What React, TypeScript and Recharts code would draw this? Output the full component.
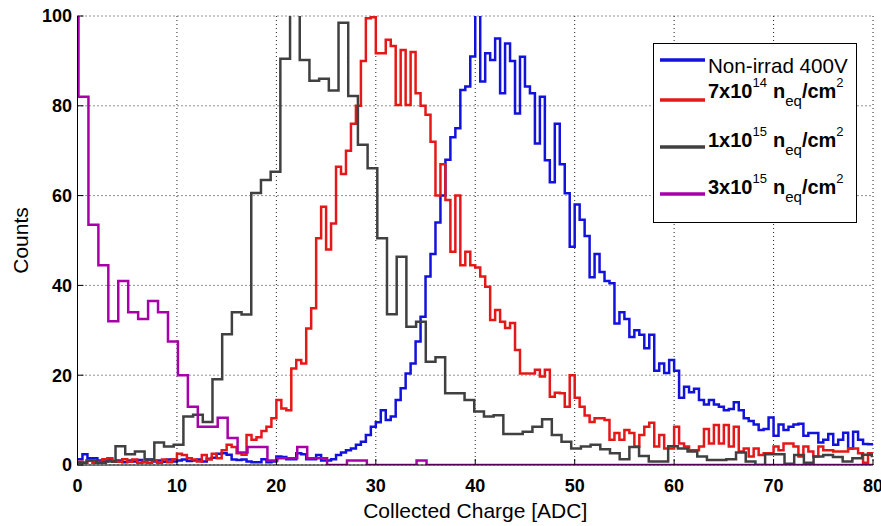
import React from 'react';
import { LineChart, Line, XAxis, YAxis, CartesianGrid, Legend } from 'recharts';

const FONT = '"Liberation Sans", Arial, Helvetica, sans-serif';

const X_TICKS = [0, 10, 20, 30, 40, 50, 60, 70, 80];
const Y_TICKS = [0, 20, 40, 60, 80, 100];

// Non-irrad 400V : bins of 0.5 starting at 0
const BLUE_COUNTS = [
  1.3, 2.4, 1.5, 1.5, 1.0, 0.8, 1.2, 0.8, 1.0, 0.6,
  1.0, 0.8, 1.1, 0.6, 1.2, 0.8, 1.0, 0.7, 1.2, 0.8,
  1.0, 1.2, 0.9, 1.0, 1.2, 0.8, 1.4, 1.6, 2.5, 2.6,
  2.3, 1.2, 1.1, 1.2, 0.8, 0.6, 0.6, 1.3, 0.6, 0.8,
  1.9, 1.8, 1.3, 1.3, 2.6, 2.4, 1.3, 1.3, 2.2, 1.0,
  1.0, 1.3, 2.2, 2.8, 3.3, 3.7, 4.5, 5.2, 6.7, 8.5,
  9.5, 12.2, 10.0, 10.8, 14.5, 17.1, 20.4, 22.6, 27.5, 33,
  42, 47, 54, 60, 68, 73, 75, 83.5, 84.3, 91,
  102, 85.4, 91.7, 90.2, 95, 82.8, 93.9, 90, 78.3, 90.9,
  84.3, 82.8, 71.6, 82, 67.9, 63, 76, 67, 60.5, 48.6,
  58, 54.6, 51, 41.8, 47, 43, 41, 40.5, 31.5, 34,
  32.5, 28.5, 30, 29, 26, 29, 21, 22.6, 20.5, 23.4,
  21, 15, 17.4, 16.2, 17, 14.5, 13.5, 14.5, 13.5, 13,
  12.2, 12.5, 14, 12.2, 10.4, 9.8, 9, 7.8, 8, 10.6,
  6.5, 9, 7.8, 8.5, 9, 9.2, 6.5, 7.1, 7.1, 5,
  5.6, 6.9, 4.5, 5.6, 7.2, 3.7, 7.4, 5.6, 4.7, 4.6,
];

// 7x10^14 : bins of 0.5 starting at 0
const RED_COUNTS = [
  0.7, 0.5, 1.0, 0.5, 0.7, 1.3, 1.5, 0.8, 0.7, 1.3,
  0.7, 1.2, 0.5, 0.7, 0.5, 1.0, 0.5, 1.2, 0.6, 1.3,
  2.5, 2.2, 1.5, 1.2, 0.8, 2.2, 1.2, 2.5, 1.5, 3.3,
  4.5, 4.0, 2.6, 2.3, 6.7, 5.6, 6.2, 7.6, 8.5, 10.4,
  14.5, 12.6, 12.2, 21.5, 23.4, 22.6, 30.4, 34.9, 50.5, 57.5,
  48, 53.8, 66.4, 64.8, 70, 76, 80, 90, 99.5, 99.7,
  91.7, 91.7, 94.7, 93.3, 80.2, 92.4, 80.2, 92, 82.8, 80,
  78, 72, 60, 67, 59, 47.5, 60, 44.5, 47.5, 44.5,
  44, 42, 39.7, 32.3, 34.5, 31.9, 30.5, 31.6, 25.6, 20.4,
  20.4, 20.4, 21.2, 19.7, 21.2, 15.2, 16.1, 16, 13, 20,
  15, 13, 11, 9.6, 10.4, 10.4, 10, 5.6, 7.1, 5.6,
  7.8, 7.1, 4.1, 6.7, 8.5, 9.4, 4.1, 6.7, 3.7, 3.7,
  8.5, 4.8, 4.1, 3.3, 3.3, 4.1, 8.0, 4.8, 8.9, 4.8,
  8.9, 4.1, 8.5, 3.0, 3.7, 1.9, 3.7, 2.2, 2.6, 2.6,
  4.1, 3.3, 4.8, 4.8, 4.1, 1.9, 4.1, 3.0, 1.9, 4.1,
  3.3, 3.3, 3.0, 3.0, 3.0, 3.7, 3.7, 2.6, 0.5, 2.6,
];

// 1x10^15 : bins of 0.975 starting at -0.075
const GRAY_COUNTS = [
  0.5, 1.0, 0.5, 0.8, 4.2, 2.4, 3.0, 1.2, 5.0, 4.1,
  4.5, 10.8, 11.2, 9.6, 19.1, 29.1, 34.0, 33.5, 60.6, 63.5,
  65.3, 90.5, 102, 90.2, 85.6, 86.0, 83.4, 98.5, 82.2, 71.3,
  66.1, 50.5, 33.6, 46.4, 30.8, 31.9, 23.0, 24.0, 16.0, 16.0,
  14.5, 11.9, 10.8, 11.1, 6.9, 6.9, 7.4, 8.5, 10.2, 6.7,
  5.2, 3.7, 4.1, 4.5, 3.5, 2.6, 1.3, 4.0, 2.0, 0.8,
  0.8, 4.2, 3.7, 3.0, 1.9, 1.1, 1.1, 1.3, 2.8, 0.8,
  0.0, 2.4, 2.4, 0.3, 2.2, 0.5, 1.9, 2.2, 1.8, 0.8,
  1.5, 2.3, 2.0,
];

// 3x10^15 : bins of 1 starting at -0.9
const MAGENTA_COUNTS = [
  102, 82, 53.5, 44.5, 32, 41, 34, 32.5, 36.5, 34,
  27.5, 20, 13, 8.5, 8.5, 10.5, 6, 2.8, 4, 4,
  1, 1.5, 1.5, 4, 1.5, 1.5, 0, 0, 1, 1,
  0, 0, 0, 0, 0, 1, 0, 0, 0, 0,
  0, 0, 0, 0, 0, 0, 0, 0, 0, 0,
  0, 0, 0, 0, 0, 0, 0, 0, 0, 0,
  0, 0, 0, 0, 0, 0, 0, 0, 0, 0,
  0, 0, 0, 0, 0, 0, 0, 0, 0, 0,
  0,
];

const FINE_START = 0;
const FINE_WIDTH = 0.5;
const GRAY_START = -0.075;
const GRAY_WIDTH = 0.975;
const MAG_START = -0.9;
const MAG_WIDTH = 1;

const SERIES_NAMES = ['Non-irrad 400V', '7x10^14 neq/cm2', '1x10^15 neq/cm2', '3x10^15 neq/cm2'];
const SERIES_BASES = ['', '7x10', '1x10', '3x10'];
const SERIES_EXPS = ['', '14', '15', '15'];
const COLORS = ['#1212dc', '#e41818', '#404040', '#a800a8'];

function toSteps(counts: number[], start: number, width: number) {
  const pts = counts.map((c, i) => ({ x: Math.round((start + i * width) * 10000) / 10000, y: c }));
  pts.push({ x: Math.round((start + counts.length * width) * 10000) / 10000, y: counts[counts.length - 1] });
  return pts;
}

const blueData = toSteps(BLUE_COUNTS, FINE_START, FINE_WIDTH);
const redData = toSteps(RED_COUNTS, FINE_START, FINE_WIDTH);
const grayData = toSteps(GRAY_COUNTS, GRAY_START, GRAY_WIDTH);
const magentaData = toSteps(MAGENTA_COUNTS, MAG_START, MAG_WIDTH);

const ROW_LINE_Y = [17, 57, 104, 151];
const ROW_TEXT_Y = [30, 55, 104, 151];

const renderLegend = (props: any) => {
  const payload: any[] = props.payload || [];
  return (
    <svg width={204} height={180} style={{ display: 'block', fontFamily: FONT }}>
      <rect x={0.5} y={0.5} width={203} height={179} fill="#fff" stroke="#000" strokeWidth={1} />
      {SERIES_NAMES.map((name, i) => {
        const entry = payload.find((p) => p.value === name);
        const color = entry && entry.color ? entry.color : COLORS[i];
        return (
          <g key={name}>
            <line x1={7} x2={52} y1={ROW_LINE_Y[i]} y2={ROW_LINE_Y[i]} stroke={color} strokeWidth={3.5} />
            {i === 0 ? (
              <text x={55} y={ROW_TEXT_Y[i]} fontSize={20.6} fill="#000">{name}</text>
            ) : (
              <text x={55} y={ROW_TEXT_Y[i]} fontSize={20} fontWeight="bold" fill="#000">
                {SERIES_BASES[i]}
                <tspan dy={-11} fontSize={13} fontWeight="normal">{SERIES_EXPS[i]}</tspan>
                <tspan dy={11} dx={6} fontSize={20}>n</tspan>
                <tspan dy={8} fontSize={15} fontWeight="normal">eq</tspan>
                <tspan dy={-8} fontSize={20}>/cm</tspan>
                <tspan dy={-11} fontSize={13} fontWeight="normal">2</tspan>
              </text>
            )}
          </g>
        );
      })}
    </svg>
  );
};

const tickStyle = { fontSize: 18, fontWeight: 'bold', fill: '#000', fontFamily: FONT };

export default function App() {
  return (
    <div style={{ position: 'absolute', left: 0, top: 0, width: 881, height: 526, background: '#fff', overflow: 'hidden' }}>
      <LineChart width={881} height={526} margin={{ top: 16, right: 8, bottom: 31, left: 17.5 }}>
        <CartesianGrid xAxisId="bottom" yAxisId="left" stroke="#222" strokeDasharray="1 3" />
        <XAxis
          xAxisId="bottom"
          dataKey="x"
          type="number"
          domain={[0, 80]}
          ticks={X_TICKS}
          interval={0}
          allowDataOverflow
          orientation="bottom"
          height={30}
          tickSize={-6}
          tickMargin={20}
          stroke="#000"
          tick={tickStyle}
          label={(p: any) => {
            const vb = p.viewBox || {};
            return (
              <text x={(vb.x || 0) + (vb.width || 0) / 2} y={518} textAnchor="middle" fontSize={21} fontFamily={FONT} fill="#000">
                Collected Charge [ADC]
              </text>
            );
          }}
        />
        <XAxis
          xAxisId="top"
          dataKey="x"
          type="number"
          domain={[0, 80]}
          ticks={X_TICKS}
          interval={0}
          allowDataOverflow
          orientation="top"
          height={0}
          tickSize={-6}
          stroke="#000"
          tick={false}
        />
        <YAxis
          yAxisId="left"
          type="number"
          domain={[0, 100]}
          ticks={Y_TICKS}
          interval={0}
          allowDataOverflow
          width={60}
          tickSize={-6}
          tickMargin={11.5}
          stroke="#000"
          tick={tickStyle}
          label={(p: any) => {
            const vb = p.viewBox || {};
            const cy = (vb.y || 0) + (vb.height || 0) / 2;
            return (
              <text x={20} y={cy} transform={`rotate(-90, 20, ${cy})`} textAnchor="middle" dominantBaseline="central" fontSize={21} fontFamily={FONT} fill="#000">
                Counts
              </text>
            );
          }}
        />
        <YAxis
          yAxisId="right"
          type="number"
          domain={[0, 100]}
          ticks={Y_TICKS}
          interval={0}
          allowDataOverflow
          orientation="right"
          width={0}
          tickSize={-6}
          stroke="#000"
          tick={false}
        />
        <Line xAxisId="bottom" yAxisId="left" data={blueData} dataKey="y" name={SERIES_NAMES[0]} type="stepAfter" stroke={COLORS[0]} strokeWidth={2.5} dot={false} isAnimationActive={false} />
        <Line xAxisId="bottom" yAxisId="left" data={redData} dataKey="y" name={SERIES_NAMES[1]} type="stepAfter" stroke={COLORS[1]} strokeWidth={2.5} dot={false} isAnimationActive={false} />
        <Line xAxisId="bottom" yAxisId="left" data={grayData} dataKey="y" name={SERIES_NAMES[2]} type="stepAfter" stroke={COLORS[2]} strokeWidth={2.5} dot={false} isAnimationActive={false} />
        <Line xAxisId="bottom" yAxisId="left" data={magentaData} dataKey="y" name={SERIES_NAMES[3]} type="stepAfter" stroke={COLORS[3]} strokeWidth={2.5} dot={false} isAnimationActive={false} />
        <Legend
          layout="vertical"
          align="center"
          verticalAlign="middle"
          content={renderLegend}
          wrapperStyle={{ position: 'absolute', left: 653, top: 43, width: 204, height: 180 }}
        />
      </LineChart>
    </div>
  );
}
